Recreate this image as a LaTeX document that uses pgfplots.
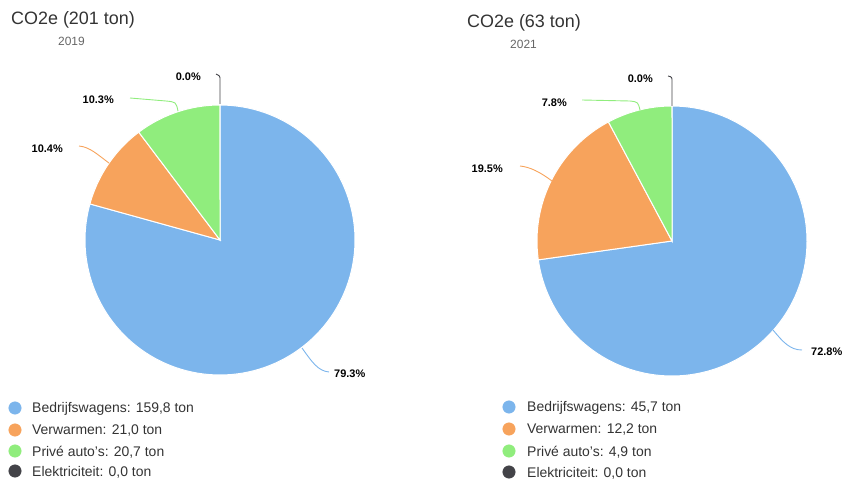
\documentclass[border=0pt]{standalone}
\usepackage{pgfplots}
\pgfplotsset{compat=1.18}
\usepackage{fontspec}
\setmainfont{Liberation Sans}
\definecolor{cblue}{HTML}{7CB5EC}
\definecolor{corange}{HTML}{F7A35C}
\definecolor{cgreen}{HTML}{90ED7D}
\definecolor{cdark}{HTML}{434348}
\definecolor{ctext}{HTML}{333333}
\definecolor{csub}{HTML}{666666}
\begin{document}
\begin{tikzpicture}
% ---- data (ton CO2e) ----
% 2019: Bedrijfswagens, Verwarmen, Prive auto's, Elektriciteit
\def\La{159.8}\def\Lb{21.0}\def\Lc{20.7}\def\Ld{0.0}
% 2021
\def\Ra{45.7}\def\Rb{12.2}\def\Rc{4.9}\def\Rd{0.0}
\pgfmathsetmacro\LT{\La+\Lb+\Lc+\Ld}
\pgfmathsetmacro\LaA{90}
\pgfmathsetmacro\LaB{90-360*(\La/\LT)}
\pgfmathsetmacro\LaC{\LaB-360*(\Lb/\LT)}
\pgfmathsetmacro\LaD{\LaC-360*(\Lc/\LT)}
\pgfmathsetmacro\RT{\Ra+\Rb+\Rc+\Rd}
\pgfmathsetmacro\RaA{90}
\pgfmathsetmacro\RaB{90-360*(\Ra/\RT)}
\pgfmathsetmacro\RaC{\RaB-360*(\Rb/\RT)}
\pgfmathsetmacro\RaD{\RaC-360*(\Rc/\RT)}
\begin{axis}[scale only axis, width=843bp, height=482bp,
  xmin=0, xmax=843, ymin=0, ymax=482, y dir=reverse,
  hide axis, clip=false]
\path (axis cs:0,0) rectangle (axis cs:843,482);
% ---- left pie ----
\addplot[fill=cblue, draw=white, line width=1bp, domain=\LaB:\LaA, samples=120, variable=\t]
  ({220+135*cos(\t)},{240-135*sin(\t)}) -- (axis cs:220,240) -- cycle;
\addplot[fill=corange, draw=white, line width=1bp, domain=\LaC:\LaB, samples=40, variable=\t]
  ({220+135*cos(\t)},{240-135*sin(\t)}) -- (axis cs:220,240) -- cycle;
\addplot[fill=cgreen, draw=white, line width=1bp, domain=\LaD:\LaC, samples=40, variable=\t]
  ({220+135*cos(\t)},{240-135*sin(\t)}) -- (axis cs:220,240) -- cycle;
% ---- right pie ----
\addplot[fill=cblue, draw=white, line width=1bp, domain=\RaB:\RaA, samples=120, variable=\t]
  ({672+135*cos(\t)},{241-135*sin(\t)}) -- (axis cs:672,241) -- cycle;
\addplot[fill=corange, draw=white, line width=1bp, domain=\RaC:\RaB, samples=60, variable=\t]
  ({672+135*cos(\t)},{241-135*sin(\t)}) -- (axis cs:672,241) -- cycle;
\addplot[fill=cgreen, draw=white, line width=1bp, domain=\RaD:\RaC, samples=40, variable=\t]
  ({672+135*cos(\t)},{241-135*sin(\t)}) -- (axis cs:672,241) -- cycle;

% ---- leader lines ----
\draw[cblue, line width=0.9bp] (axis cs:302,348) .. controls (axis cs:312,362) and (axis cs:318,371) .. (axis cs:329,372);
\draw[corange, line width=0.9bp] (axis cs:109,163) .. controls (axis cs:98,155) and (axis cs:90,147) .. (axis cs:79,146);
\draw[cgreen, line width=0.9bp] (axis cs:178,111) .. controls (axis cs:176,102) .. (axis cs:166,101) -- (axis cs:130,98);
\draw[cdark, line width=0.9bp] (axis cs:220,104) -- (axis cs:220,80) .. controls (axis cs:220,76) .. (axis cs:216,74);
\draw[cdark, line width=0.9bp] (axis cs:672,106) -- (axis cs:672,82) .. controls (axis cs:672,77) .. (axis cs:668,76);
\draw[cgreen, line width=0.9bp] (axis cs:640,110) .. controls (axis cs:638,102) .. (axis cs:630,101) -- (axis cs:582,100);
\draw[corange, line width=0.9bp] (axis cs:552,181) .. controls (axis cs:540,172) and (axis cs:530,167) .. (axis cs:520,166);
\draw[cblue, line width=0.9bp] (axis cs:773,330) .. controls (axis cs:783,342) and (axis cs:790,350) .. (axis cs:802,350);

% ---- data labels ----
\begin{scope}[every node/.style={inner sep=0pt, font=\fontsize{11}{13}\selectfont\bfseries, text=black}]
\node[anchor=west] at (axis cs:334,374) {79.3\%};
\node[anchor=east] at (axis cs:63,149) {10.4\%};
\node[anchor=east] at (axis cs:114,100) {10.3\%};
\node[anchor=east] at (axis cs:201,77) {0.0\%};
\node[anchor=west] at (axis cs:811,352) {72.8\%};
\node[anchor=east] at (axis cs:503,169) {19.5\%};
\node[anchor=east] at (axis cs:567,103) {7.8\%};
\node[anchor=east] at (axis cs:653,79) {0.0\%};
\end{scope}

% ---- titles ----
\node[anchor=base west, inner sep=0pt, text=ctext, font=\fontsize{18}{20}\selectfont] at (axis cs:11,25) {CO2e (201 ton)};
\node[anchor=base west, inner sep=0pt, text=csub, font=\fontsize{12}{14}\selectfont] at (axis cs:58,46) {2019};
\node[anchor=base west, inner sep=0pt, text=ctext, font=\fontsize{18}{20}\selectfont] at (axis cs:467,28) {CO2e (63 ton)};
\node[anchor=base west, inner sep=0pt, text=csub, font=\fontsize{12}{14}\selectfont] at (axis cs:510,49) {2021};

% ---- legends ----
\addplot[only marks, mark=*, mark size=6.3, color=cblue] coordinates {(15,408) (509,407)};
\addplot[only marks, mark=*, mark size=6.3, color=corange] coordinates {(15,430) (509,429)};
\addplot[only marks, mark=*, mark size=6.3, color=cgreen] coordinates {(15,451) (509,451)};
\addplot[only marks, mark=*, mark size=6.3, color=cdark] coordinates {(15,471) (509,472)};
\begin{scope}[every node/.style={inner sep=0pt, anchor=west, text=ctext, font=\fontsize{14}{16}\selectfont}]
\node at (axis cs:32,409) {Bedrijfswagens: 159,8 ton};
\node at (axis cs:32,431) {Verwarmen: 21,0 ton};
\node at (axis cs:32,452) {Privé auto's: 20,7 ton};
\node at (axis cs:32,472) {Elektriciteit: 0,0 ton};
\node at (axis cs:527,408) {Bedrijfswagens: 45,7 ton};
\node at (axis cs:527,430) {Verwarmen: 12,2 ton};
\node at (axis cs:527,452) {Privé auto's: 4,9 ton};
\node at (axis cs:527,473) {Elektriciteit: 0,0 ton};
\end{scope}
\end{axis}
\end{tikzpicture}
\end{document}
